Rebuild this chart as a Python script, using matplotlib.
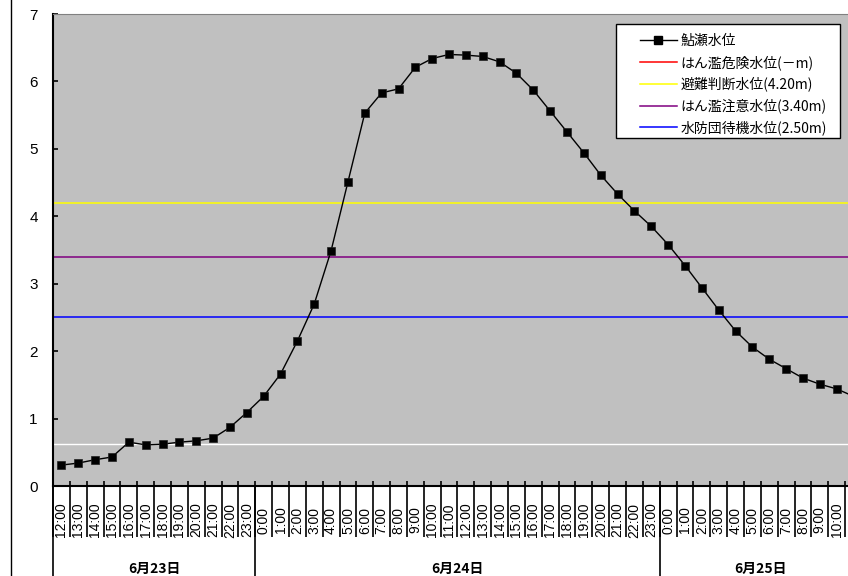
import matplotlib
matplotlib.use("Agg")
import matplotlib.pyplot as plt
import matplotlib.transforms as mtransforms
from matplotlib.lines import Line2D
from matplotlib.patches import Rectangle

plt.rcParams['font.family'] = ['Noto Sans CJK JP', 'DejaVu Sans']

# 時刻ラベル (6/23 12:00 ～ 6/25 11:00)
hours = ([f"{h}:00" for h in range(12, 24)]
         + [f"{h}:00" for h in range(0, 24)]
         + [f"{h}:00" for h in range(0, 12)])

# 日付グループ (ラベル, 時間数)
days = ["6月23日", "6月24日", "6月25日"]
day_counts = [12, 24, 12]

# 鮎瀬水位 (m)
level = [0.31, 0.34, 0.39, 0.43, 0.65, 0.61, 0.62, 0.65, 0.67, 0.71, 0.87, 1.09,
         1.33, 1.66, 2.15, 2.70, 3.49, 4.51, 5.53, 5.83, 5.89, 6.21, 6.34, 6.40,
         6.39, 6.37, 6.29, 6.12, 5.87, 5.56, 5.25, 4.94, 4.61, 4.33, 4.08, 3.85,
         3.58, 3.27, 2.94, 2.61, 2.30, 2.06, 1.88, 1.74, 1.60, 1.51, 1.44, 1.33]

# 基準水位
hinan = 4.20
chui = 3.40
taiki = 2.50
white_level = 0.63

legend_labels = ["鮎瀬水位", "はん濫危険水位(－m)", "避難判断水位(4.20m)",
                 "はん濫注意水位(3.40m)", "水防団待機水位(2.50m)"]

W, H = 848, 576
fig = plt.figure(figsize=(W / 100, H / 100), dpi=100)
fig.patch.set_facecolor("white")

# プロット領域 (右側は図の外まで続く)
left, top, bottom = 53, 14, 486
right = 862
ax = fig.add_axes([left / W, 1 - bottom / H, (right - left) / W, (bottom - top) / H])
ax.set_facecolor("#C0C0C0")

x = list(range(len(hours)))
ax.axhline(white_level, color="white", lw=1.0)
ax.axhline(hinan, color="#FFFF00", lw=1.1)
ax.axhline(chui, color="#800080", lw=1.1)
ax.axhline(taiki, color="#0000FF", lw=1.1)
ax.plot(x, level, color="black", lw=1.0, marker="s", markersize=6,
        markerfacecolor="black", markeredgecolor="#202020", markeredgewidth=0.5)

ax.set_xlim(-0.5, len(hours) - 0.5)
ax.set_ylim(0, 7)

# 軸
for s in ["left", "bottom"]:
    ax.spines[s].set_color("black")
    ax.spines[s].set_linewidth(1.5)
ax.spines["top"].set_color("#808080")
ax.spines["top"].set_linewidth(0.8)
ax.spines["right"].set_visible(False)

ax.set_yticks(range(0, 8))
ax.tick_params(axis="y", direction="in", length=3.5, width=1.2, pad=11,
               labelsize=11)
for t in ax.get_yticklabels():
    t.set_family(["Liberation Sans Narrow", "Liberation Sans"])

bounds = [i - 0.5 for i in range(len(hours) + 1)]
ax.set_xticks(bounds)
ax.set_xticklabels([])
ax.tick_params(axis="x", which="major", direction="in", length=3.6, width=1.2)
ax.set_xticks(x, minor=True)
ax.set_xticklabels(hours, minor=True, rotation=90)
ax.tick_params(axis="x", which="minor", length=0, pad=24.5, labelsize=10)
for i, t in enumerate(ax.get_xticklabels(minor=True)):
    t.set_va("center")
    t.set_family(["Liberation Sans", "DejaVu Sans"])
    # 図の右端より外の目盛ラベルは描かない
    if left + (i + 1) * (right - left) / len(hours) > W:
        t.set_visible(False)

# 目盛ラベルの区切り線と日付の区切り線
trans = mtransforms.blended_transform_factory(ax.transData, ax.transAxes)
ysep = (bottom - 537) / (bottom - top)
ax.vlines(bounds, ysep, 0, transform=trans, colors="black", lw=1.2, clip_on=False)
edges = [-0.5]
for c in day_counts:
    edges.append(edges[-1] + c)
ybot = (bottom - H - 5) / (bottom - top)
ax.vlines(edges, ybot, 0, transform=trans, colors="black", lw=1.2, clip_on=False)
ylab = (bottom - 569) / (bottom - top)
for d, a, b in zip(days, edges[:-1], edges[1:]):
    ax.text((a + b) / 2, ylab, d, transform=trans, ha="center", va="center",
            fontsize=10, fontweight="bold", clip_on=False)

# 図の枠線
fig.add_artist(Line2D([11 / W, 11 / W], [0, 1], color="black", lw=1.0,
                      transform=fig.transFigure))

# 凡例
fig.add_artist(Rectangle((616 / W, 1 - 138 / H), (840 - 616) / W, (138 - 24) / H,
                         transform=fig.transFigure, facecolor="white",
                         edgecolor="black", lw=1.0, zorder=4))
handles = [
    Line2D([], [], color="black", lw=1.0, marker="s", markersize=6),
    Line2D([], [], color="#FF0000", lw=1.1),
    Line2D([], [], color="#FFFF00", lw=1.1),
    Line2D([], [], color="#800080", lw=1.1),
    Line2D([], [], color="#0000FF", lw=1.1),
]
leg = fig.legend(handles, legend_labels, loc="upper left",
                 bbox_to_anchor=(640 / W, 1 - 34 / H), bbox_transform=fig.transFigure,
                 frameon=False, borderpad=0, borderaxespad=0, handlelength=2.66,
                 handletextpad=0.25, labelspacing=0.5, fontsize=10, numpoints=1)
leg.set_zorder(5)

fig.savefig("out.png", dpi=100)
